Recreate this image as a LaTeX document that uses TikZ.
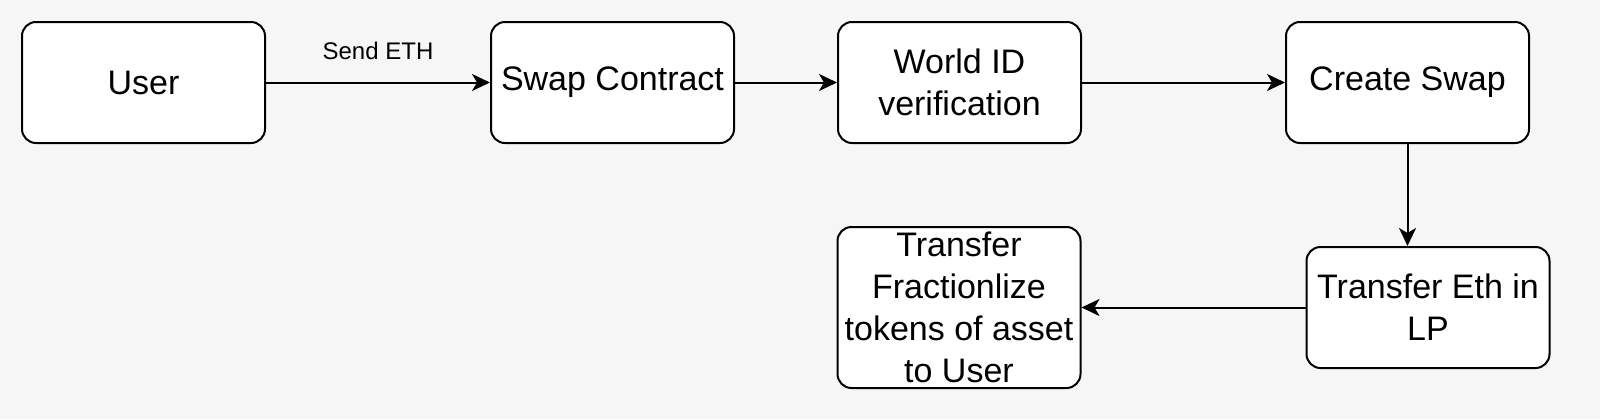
\documentclass[tikz,border=0pt]{standalone}
\usepackage{fontspec}
\setmainfont{Liberation Sans}
\usetikzlibrary{arrows.meta,positioning}
\definecolor{bg}{HTML}{F6F6F6}
\tikzset{
    %Define standard arrow tip
    >={Stealth[length=9pt,width=8.5pt,inset=2.5pt]},
    %Define style for boxes
    kasse/.style={
           rectangle,
           rounded corners=7pt,
           draw=black, line width=1pt,
           fill=white,
           inner xsep=1pt,
           minimum width=121.5pt,
           minimum height=60.5pt,
           align=center,
           font=\fontsize{17}{21}\selectfont},
    % Define arrow style
    pil/.style={
           ->,
           line width=1pt}
}

\begin{document}
\begin{tikzpicture}[node distance=112pt,main node/.style={kasse}]

\fill[bg] (0,0) rectangle (800pt,-209.5pt);
\useasboundingbox (0,0) rectangle (800pt,-209.5pt);

\node[main node] (user) at (71.75pt,-41.25pt) {User};
\node[main node, right=of user] (swap) {Swap Contract};
\node[main node, right=51pt of swap] (world) {World ID\\verification};
\node[main node, right=101.5pt of world] (create) {Create Swap};
\node[main node, below=51pt of create, xshift=10.25pt] (lp) {Transfer Eth in\\LP};
\node[main node, left=of lp, minimum height=80.5pt, inner ysep=0pt] (frac) {Transfer\\Fractionlize\\tokens of asset\\to User};

 \path[pil]
    (user) edge node[pos=0.5, yshift=16pt, font=\fontsize{12}{14}\selectfont] {Send ETH} (swap)
    (swap) edge (world)
    (world) edge (create)
    (create.south) edge (create.south |- lp.north)
    (lp) edge (frac);

\end{tikzpicture}
\end{document}
